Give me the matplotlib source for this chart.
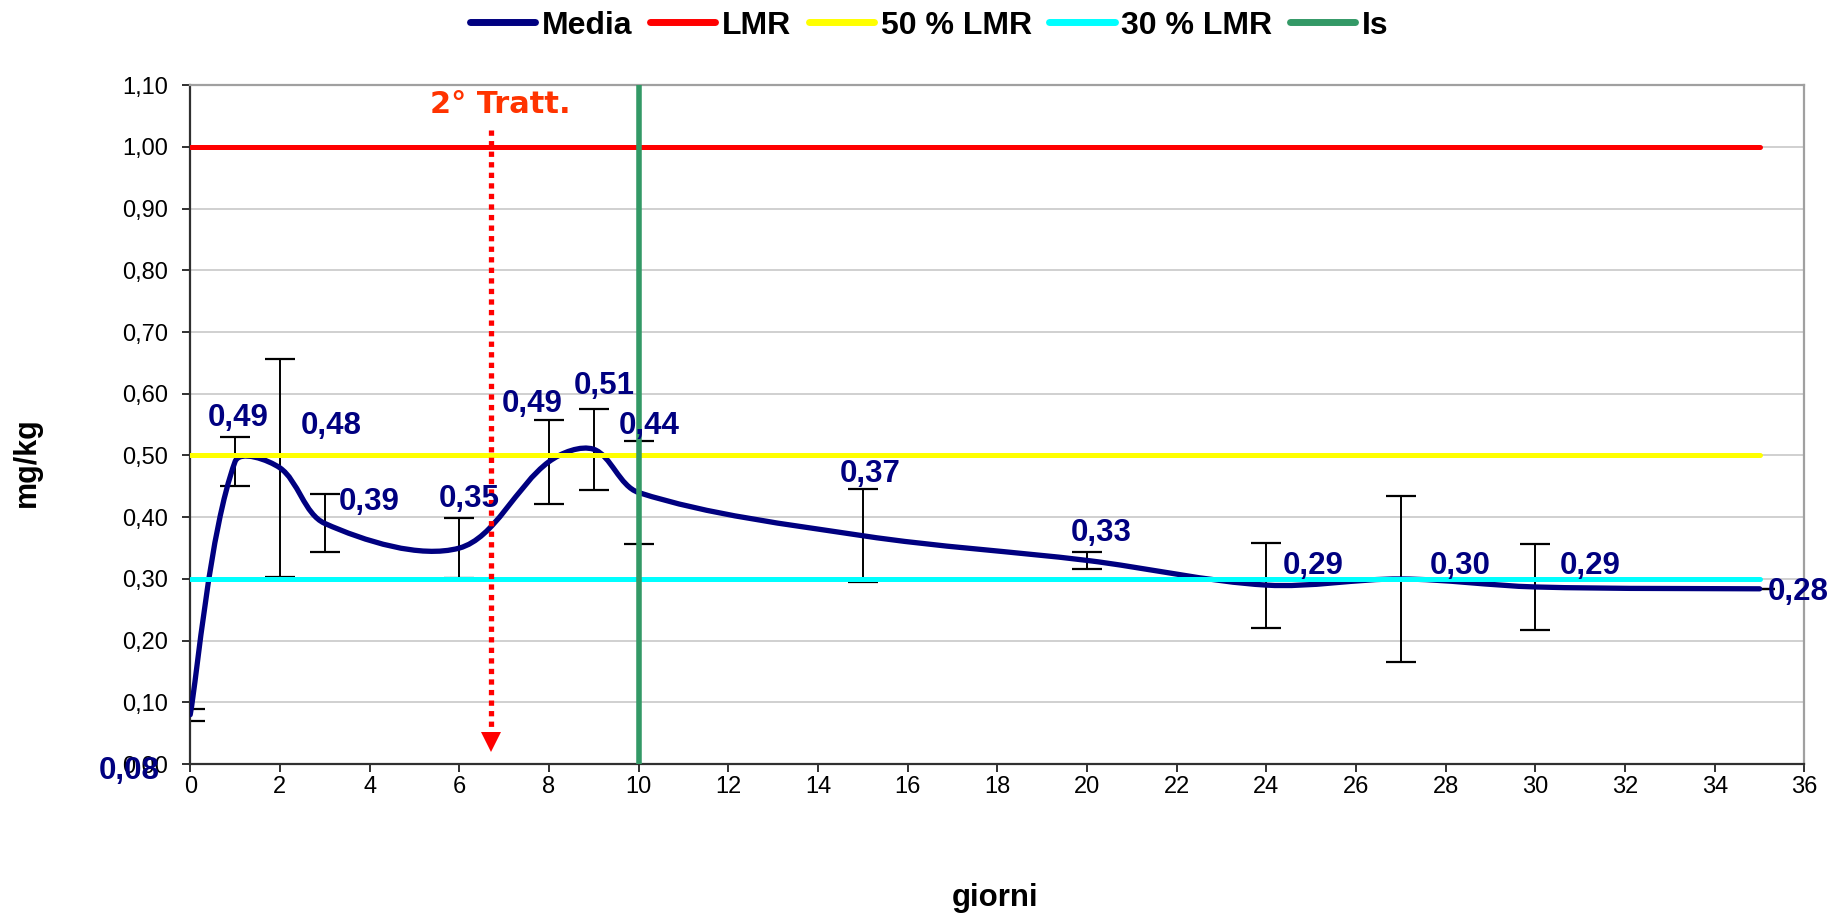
import numpy as np
import matplotlib
matplotlib.use("Agg")
import matplotlib.pyplot as plt
from matplotlib.path import Path
from matplotlib.patches import PathPatch
from matplotlib.lines import Line2D
from matplotlib.ticker import FuncFormatter

plt.rcParams['font.family'] = ['Liberation Sans', 'DejaVu Sans']

# ---------------- data ----------------
giorni = [0, 1, 2, 3, 6, 8, 9, 10, 15, 20, 24, 27, 30, 35]
media = [0.08, 0.49, 0.48, 0.39, 0.35, 0.49, 0.51, 0.44, 0.37, 0.33, 0.29, 0.30, 0.287, 0.284]
errore = [0.01, 0.04, 0.177, 0.047, 0.048, 0.068, 0.066, 0.084, 0.075, 0.014, 0.069, 0.134, 0.069, 0.0]
lmr_x = [0, 35]
lmr = [1.00, 1.00]
lmr50 = [0.50, 0.50]
lmr30 = [0.30, 0.30]
is_x = [10, 10]
is_y = [0.0, 1.10]
tratt_x = [6.7, 6.7]
tratt_y = [1.027, 0.035]
tratt_label = "2° Tratt."
legend_labels = ["Media", "LMR", "50 % LMR", "30 % LMR", "Is"]
x_ticks = list(range(0, 37, 2))
y_ticks = [round(0.1 * i, 2) for i in range(12)]

# label placement (layout only: data coords of label baseline centre, alignment)
label_xy = [(-1.35, -0.024), (1.07, 0.547), (3.15, 0.535), (4.00, 0.412),
            (6.22, 0.416), (7.62, 0.571), (9.24, 0.599), (10.24, 0.535),
            (15.17, 0.457), (20.31, 0.361), (25.04, 0.308), (28.32, 0.308),
            (31.23, 0.308), (35.17, 0.266)]
label_ha = ['center'] * 13 + ['left']

NAVY = '#000080'
RED = '#FF0000'
YELLOW = '#FFFF00'
CYAN = '#00FFFF'
GREEN = '#339966'

fig = plt.figure(figsize=(18.29, 9.13), dpi=100)
ax = fig.add_axes([0.1040, 0.1631, 0.8826, 0.7436])
ax.set_xlim(0, 36)
ax.set_ylim(0, 1.10)

# grid / ticks
ax.set_yticks(y_ticks)
ax.set_xticks(x_ticks)
ax.yaxis.grid(True, color='#C8C8C8', lw=1.2, zorder=0)
ax.set_axisbelow(True)
ax.yaxis.set_major_formatter(FuncFormatter(lambda v, p: f"{v:.2f}".replace('.', ',')))
ax.tick_params(axis='both', direction='out', length=5.8, width=1.4, color='#303030',
               labelsize=17, labelcolor='black')
ax.tick_params(axis='y', pad=10)
ax.tick_params(axis='x', pad=3)
for s in ['left', 'bottom']:
    ax.spines[s].set_color('#303030')
    ax.spines[s].set_linewidth(1.6)
for s in ['top', 'right']:
    ax.spines[s].set_color('#A0A0A0')
    ax.spines[s].set_linewidth(1.6)

# error bars
ax.errorbar(giorni, media, yerr=errore, fmt='none', ecolor='black', elinewidth=1.4,
            capsize=10.5, capthick=1.6, zorder=2)

# smoothed media line (Bezier smoothing in display space, chord-length weighted)
fig.canvas.draw()
P = ax.transData.transform(np.column_stack([giorni, media]))
n = len(P)
d = np.linalg.norm(np.diff(P, axis=0), axis=1)
tang = np.zeros_like(P)
for i in range(n):
    a = P[i - 1] if i > 0 else P[i]
    b = P[i + 1] if i < n - 1 else P[i]
    tang[i] = b - a
verts = [P[0]]
codes = [Path.MOVETO]
for i in range(n - 1):
    dl = d[i - 1] if i > 0 else d[i]
    dr = d[i + 1] if i + 1 < n - 1 else d[i]
    c1 = P[i] + tang[i] * d[i] / (dl + d[i]) / 3.0
    c2 = P[i + 1] - tang[i + 1] * d[i] / (d[i] + dr) / 3.0
    verts += [c1, c2, P[i + 1]]
    codes += [Path.CURVE4] * 3
verts = ax.transData.inverted().transform(np.array(verts))
patch = PathPatch(Path(verts, codes), fill=False, edgecolor=NAVY, lw=3.8,
                  capstyle='round', joinstyle='round', zorder=3)
ax.add_patch(patch)

# reference lines
ax.plot(lmr_x, lmr, color=RED, lw=3.6, zorder=4, solid_capstyle='round')
ax.plot(lmr_x, lmr50, color=YELLOW, lw=3.6, zorder=4, solid_capstyle='round')
ax.plot(lmr_x, lmr30, color=CYAN, lw=3.6, zorder=4, solid_capstyle='round')
ax.plot(is_x, is_y, color=GREEN, lw=4.0, zorder=5, solid_capstyle='butt')

# treatment arrow
ax.plot(tratt_x, tratt_y, color=RED, lw=3.8, dashes=(1.0, 1.0), dash_capstyle='butt', zorder=6)
ax.plot([tratt_x[1]], [tratt_y[1]], marker='v', color=RED, markersize=14, zorder=6,
        markeredgewidth=0)
ax.text(6.91, 1.0695, tratt_label, color='#FF3300', fontsize=22, fontweight='bold',
        family=['DejaVu Sans'], ha='center', va='center', zorder=7)

# data labels
for (lx, ly), ha, v in zip(label_xy, label_ha, media):
    ax.text(lx, ly, f"{v:.2f}".replace('.', ','), color=NAVY, fontsize=22.5,
            fontweight='bold', ha=ha, va='baseline', zorder=8, clip_on=False)

# axis titles
fig.text(0.0148, 0.494, "mg/kg", rotation=90, fontsize=22, fontweight='bold',
         ha='center', va='center')
fig.text(0.544, 0.0165, "giorni", fontsize=22.5, fontweight='bold', ha='center', va='center')

# legend
handles = [Line2D([], [], color=c, lw=5, solid_capstyle='round')
           for c in [NAVY, RED, YELLOW, CYAN, GREEN]]
fig.legend(handles, legend_labels, loc='center', bbox_to_anchor=(0.508, 0.972), ncol=5,
           frameon=False, prop={'weight': 'bold', 'size': 23}, handlelength=2.05,
           handletextpad=0.2, columnspacing=0.55, borderpad=0.1)

fig.savefig('out.png', dpi=100)
